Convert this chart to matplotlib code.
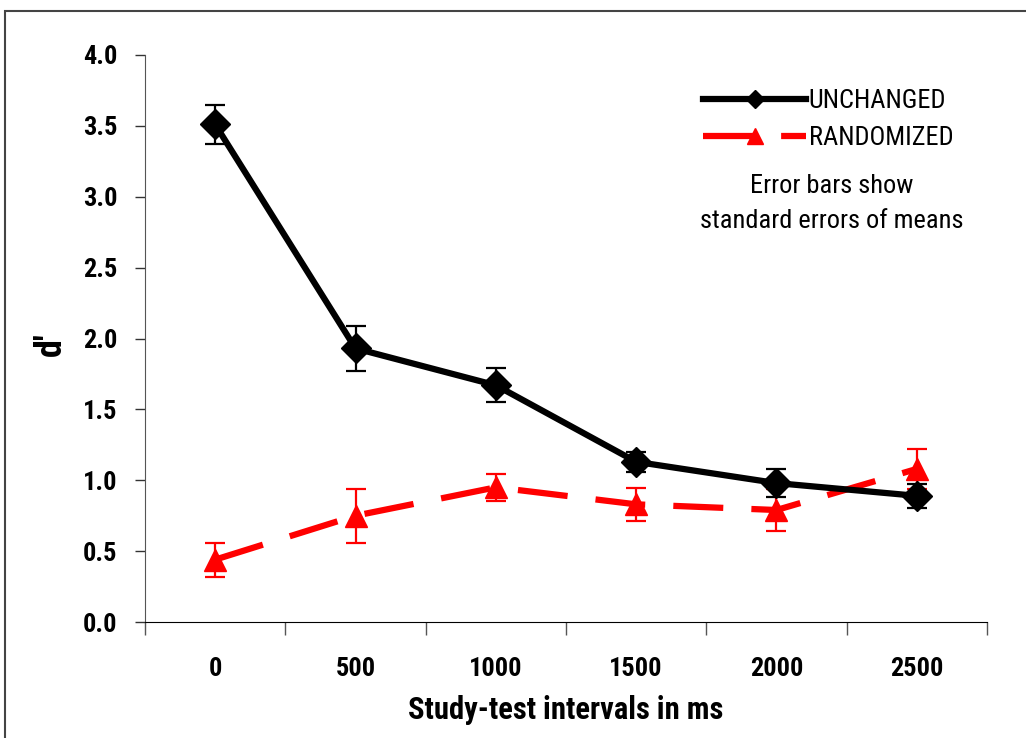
import matplotlib
matplotlib.use("Agg")
import matplotlib.pyplot as plt
from matplotlib.lines import Line2D
from matplotlib.patches import Rectangle
from matplotlib import font_manager

names = sorted({f.name for f in font_manager.fontManager.ttflist})
cond = [n for n in ['Roboto Condensed', 'Liberation Sans Narrow', 'DejaVu Sans Condensed'] if n in names]
plt.rcParams['font.family'] = cond + ['Liberation Sans', 'DejaVu Sans']

intervals = ["0", "500", "1000", "1500", "2000", "2500"]
unchanged = [3.51, 1.93, 1.67, 1.13, 0.98, 0.89]
unchanged_se = [0.14, 0.16, 0.12, 0.07, 0.10, 0.085]
randomized = [0.44, 0.75, 0.95, 0.83, 0.79, 1.08]
randomized_se = [0.12, 0.19, 0.095, 0.115, 0.15, 0.14]
yticks = [0.0, 0.5, 1.0, 1.5, 2.0, 2.5, 3.0, 3.5, 4.0]

fig = plt.figure(figsize=(10.26, 7.38), dpi=100)
ax = fig.add_axes([145/1026, 1-622/738, (987-145)/1026, (622-55)/738])

x = list(range(len(intervals)))

ax.errorbar(x, randomized, yerr=randomized_se, color='#ff0000', lw=4.5,
            dashes=(8, 4.5), marker='^', ms=16, mfc='#ff0000', mec='#ff0000',
            ecolor='#ff0000', elinewidth=1.6, capsize=7, capthick=1.6, zorder=3)
ax.errorbar(x, unchanged, yerr=unchanged_se, color='black', lw=4.5,
            marker='D', ms=15, mfc='black', mec='black',
            ecolor='black', elinewidth=1.6, capsize=7, capthick=1.6, zorder=4)

ax.set_xlim(-0.5, len(intervals) - 0.5)
ax.set_ylim(0, 4.0)
ax.set_yticks(yticks)
ax.set_yticklabels([f"{v:.1f}" for v in yticks], fontsize=19, fontweight='bold')

ax.set_xticks([i - 0.5 for i in range(len(intervals) + 1)])
ax.set_xticklabels([])
ax.set_xticks(x, minor=True)
ax.set_xticklabels(intervals, minor=True, fontsize=19, fontweight='bold')
ax.tick_params(axis='x', which='major', direction='out', length=9, width=1, color='#555555')
ax.tick_params(axis='x', which='minor', length=0, pad=25)
ax.tick_params(axis='y', direction='out', length=7, width=1, pad=13, color='#333333')

for s in ['top', 'right']:
    ax.spines[s].set_visible(False)
ax.spines['left'].set_color('#555555')
ax.spines['bottom'].set_color('black')

ax.set_ylabel("d'", fontsize=26, fontweight='bold')
ax.yaxis.set_label_coords(-0.091, 0.49)
ax.set_xlabel("Study-test intervals in ms", fontsize=22, fontweight='bold', labelpad=10)

handles = [
    Line2D([], [], color='black', lw=4.5, marker='D', ms=9, mfc='black'),
    Line2D([], [], color='#ff0000', lw=4.5, dashes=(8, 4.5), marker='^', ms=12, mfc='#ff0000', mec='#ff0000'),
]
leg = ax.legend(handles, ["UNCHANGED", "RANDOMIZED"], loc='upper left',
                bbox_to_anchor=((690-145)/842, 1-(76-55)/567), frameon=False, fontsize=19,
                handlelength=3.9, handletextpad=0.1, labelspacing=0.5, borderpad=0)

fig.text(832/1026, 1-186/738, "Error bars show", ha='center', va='center', fontsize=19)
fig.text(832/1026, 1-221/738, "standard errors of means", ha='center', va='center', fontsize=19)

fig.patches.append(Rectangle((5/1026, -0.1), 1.2, 1 - 11/738 + 0.1, transform=fig.transFigure,
                             fill=False, edgecolor='#444444', lw=1.5))

fig.savefig("out.png", dpi=100)
